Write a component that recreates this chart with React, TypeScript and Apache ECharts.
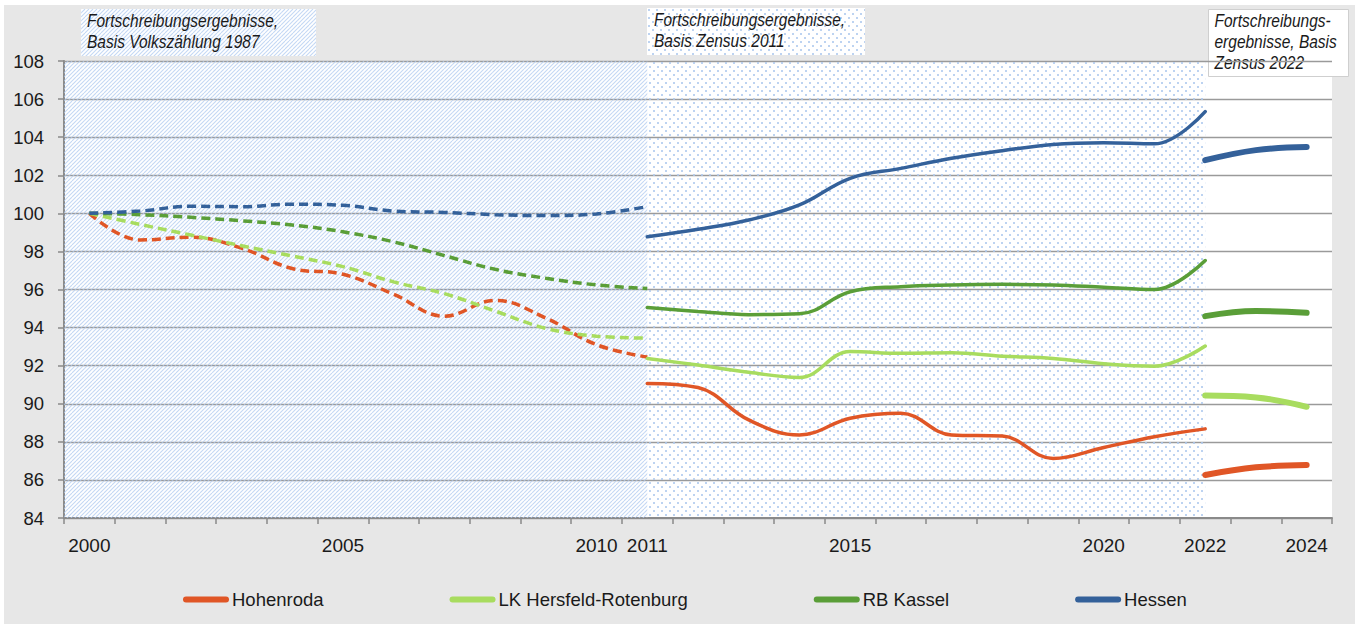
import React, { useEffect, useRef } from "react";
import * as echarts from "echarts";

const YEARS = [
  "2000", "2001", "2002", "2003", "2004", "2005", "2006", "2007", "2008", "2009",
  "2010", "2011", "2012", "2013", "2014", "2015", "2016", "2017", "2018", "2019",
  "2020", "2021", "2022", "2023", "2024",
];
const X_LABELS = ["2000", "2005", "2010", "2011", "2015", "2020", "2022", "2024"];

const NAMES = ["Hohenroda", "LK Hersfeld-Rotenburg", "RB Kassel", "Hessen"];
const COLORS = ["#E05626", "#A8DC5F", "#5A9E38", "#34619A"];

// Basis Volkszählung 1987: 2000–2011
const HOHENRODA_VZ87 = [100, 98.6, 98.75, 98.17, 97.1, 96.8, 95.75, 94.6, 95.43, 94.5, 93.1, 92.45];
const LK_VZ87 = [100, 99.42, 98.86, 98.3, 97.76, 97.2, 96.4, 95.78, 94.87, 93.96, 93.55, 93.45];
const RBK_VZ87 = [100, 99.93, 99.79, 99.61, 99.39, 99.03, 98.5, 97.78, 97.06, 96.59, 96.24, 96.05];
const HESSEN_VZ87 = [100, 100.12, 100.37, 100.35, 100.48, 100.42, 100.12, 100.05, 99.93, 99.88, 99.97, 100.35];

// Basis Zensus 2011: 2011–2022
const HOHENRODA_Z11 = [91.07, 90.85, 89.15, 88.36, 89.24, 89.5, 88.36, 88.3, 87.13, 87.7, 88.27, 88.68];
const LK_Z11 = [92.38, 92.03, 91.65, 91.38, 92.74, 92.65, 92.68, 92.5, 92.38, 92.1, 91.97, 93.03];
const RBK_Z11 = [95.06, 94.85, 94.68, 94.72, 95.88, 96.15, 96.24, 96.27, 96.24, 96.12, 96.0, 97.52];
const HESSEN_Z11 = [98.77, 99.16, 99.65, 100.44, 101.84, 102.36, 102.89, 103.29, 103.62, 103.71, 103.65, 105.34];

// Basis Zensus 2022: 2022–2024
const HOHENRODA_Z22 = [86.26, 86.66, 86.78];
const LK_Z22 = [90.43, 90.33, 89.84];
const RBK_Z22 = [94.6, 94.87, 94.78];
const HESSEN_Z22 = [102.79, 103.32, 103.48];

const START_1987 = 0;
const START_2011 = 11;
const START_2022 = 22;

const SERIES_DATA = [
  [HOHENRODA_VZ87, HOHENRODA_Z11, HOHENRODA_Z22],
  [LK_VZ87, LK_Z11, LK_Z22],
  [RBK_VZ87, RBK_Z11, RBK_Z22],
  [HESSEN_VZ87, HESSEN_Z11, HESSEN_Z22],
];

const Y_MIN = 84;
const Y_MAX = 108;
const Y_STEP = 2;

const FONT = "'Liberation Sans', Arial, sans-serif";

function pad(values: number[], start: number): (number | null)[] {
  const out: (number | null)[] = YEARS.map(() => null);
  values.forEach((v, i) => {
    out[start + i] = v;
  });
  return out;
}

function makeHatch(withWhite: boolean): string {
  const c = document.createElement("canvas");
  c.width = 8;
  c.height = 8;
  const ctx = c.getContext("2d")!;
  if (withWhite) {
    ctx.fillStyle = "#ffffff";
    ctx.fillRect(0, 0, 8, 8);
  }
  ctx.strokeStyle = "rgba(176,203,240,0.75)";
  ctx.lineWidth = 1.1;
  for (let k = -8; k <= 16; k += 4) {
    ctx.beginPath();
    ctx.moveTo(k, 8);
    ctx.lineTo(k + 8, 0);
    ctx.stroke();
  }
  return c.toDataURL();
}

function makeDots(withWhite: boolean): string {
  const c = document.createElement("canvas");
  c.width = 8;
  c.height = 8;
  const ctx = c.getContext("2d")!;
  if (withWhite) {
    ctx.fillStyle = "#ffffff";
    ctx.fillRect(0, 0, 8, 8);
  }
  ctx.fillStyle = "rgba(172,200,238,0.8)";
  ctx.fillRect(1, 1, 2, 2);
  ctx.fillRect(5, 5, 2, 2);
  return c.toDataURL();
}

export default function App() {
  const ref = useRef<HTMLDivElement>(null);

  useEffect(() => {
    if (!ref.current) return;
    const chart = echarts.init(ref.current, undefined, { renderer: "svg" });

    const hatch = { image: makeHatch(false), repeat: "repeat", imageWidth: 8, imageHeight: 8 };
    const dots = { image: makeDots(false), repeat: "repeat", imageWidth: 8, imageHeight: 8 };
    const hatchW = { image: makeHatch(true), repeat: "repeat", imageWidth: 8, imageHeight: 8 };
    const dotsW = { image: makeDots(true), repeat: "repeat", imageWidth: 8, imageHeight: 8 };

    const series: any[] = [];
    const starts = [START_1987, START_2011, START_2022];
    SERIES_DATA.forEach((parts, r) => {
      parts.forEach((vals, p) => {
        series.push({
          name: NAMES[r],
          type: "line",
          xAxisIndex: 0,
          yAxisIndex: 0,
          data: pad(vals, starts[p]),
          smooth: 0.4,
          symbol: "none",
          showSymbol: false,
          silent: true,
          z: 3,
          color: COLORS[r],
          lineStyle: {
            color: COLORS[r],
            width: p === 2 ? 6 : 3.5,
            type: p === 0 ? [9, 5] : "solid",
            cap: p === 0 ? "butt" : "round",
          },
        });
      });
    });

    series.push({
      name: "__bg",
      type: "line",
      xAxisIndex: 1,
      yAxisIndex: 0,
      data: [],
      silent: true,
      markArea: {
        silent: true,
        data: [
          [{ xAxis: -0.5, itemStyle: { color: hatch } }, { xAxis: START_2011 }],
          [{ xAxis: START_2011, itemStyle: { color: dots } }, { xAxis: START_2022 }],
        ],
      },
    });

    const textStyleBox = {
      fill: "#1a1a1a",
      fontStyle: "italic",
      fontSize: 15.5,
      fontFamily: FONT,
      lineHeight: 17.5,
      verticalAlign: "top",
    };

    chart.setOption({
      animation: false,
      backgroundColor: "#E7E7E7",
      grid: {
        left: 60,
        top: 56,
        width: 1268,
        height: 457,
        show: true,
        backgroundColor: "#ffffff",
        borderWidth: 0,
        containLabel: false,
      },
      legend: {
        data: NAMES.map((n, i) => ({
          name: n,
          icon: "path://M3,0L43,0A3,3,0,0,1,43,6L3,6A3,3,0,0,1,3,0Z",
          itemStyle: { color: COLORS[i] },
        })),
        left: 174,
        top: 580,
        itemWidth: 46,
        itemHeight: 6,
        itemGap: 126,
        textStyle: { color: "#1a1a1a", fontSize: 18.5, fontFamily: FONT, padding: [0, 0, 0, -2] },
        selectedMode: false,
      },
      xAxis: [
        {
          type: "category",
          data: YEARS,
          boundaryGap: true,
          axisLine: { show: true, onZero: false, lineStyle: { color: "#8a8a8a", width: 2 } },
          axisTick: { show: true, interval: 0, length: 6, lineStyle: { color: "#8a8a8a", width: 1.5 } },
          axisLabel: {
            interval: 0,
            margin: 18,
            color: "#1a1a1a",
            fontSize: 19,
            fontFamily: FONT,
            formatter: (v: string) => (X_LABELS.includes(v) ? v : ""),
          },
          splitLine: { show: false },
        },
        {
          type: "value",
          min: -0.5,
          max: YEARS.length - 0.5,
          show: false,
          position: "bottom",
          axisLine: { onZero: false },
        },
      ],
      yAxis: {
        type: "value",
        min: Y_MIN,
        max: Y_MAX,
        interval: Y_STEP,
        axisLine: { show: true, onZero: false, lineStyle: { color: "#8a8a8a", width: 2 } },
        axisTick: { show: true, length: 6, lineStyle: { color: "#8a8a8a", width: 1.5 } },
        axisLabel: { margin: 20, color: "#1a1a1a", fontSize: 18.5, fontFamily: FONT },
        splitLine: { show: true, lineStyle: { color: "#9a9a9a", width: 1.3 } },
      },
      graphic: [
        {
          type: "group",
          left: 77,
          top: 4,
          children: [
            { type: "rect", shape: { x: 0, y: 0, width: 235, height: 47 }, style: { fill: hatchW } },
            {
              type: "text",
              x: 6,
              y: 2,
              scaleY: 1.2,
              style: { ...textStyleBox, text: "Fortschreibungsergebnisse,\nBasis Volkszählung 1987" },
            },
          ],
        },
        {
          type: "group",
          left: 643,
          top: 3,
          children: [
            { type: "rect", shape: { x: 0, y: 0, width: 218, height: 47 }, style: { fill: dotsW } },
            {
              type: "text",
              x: 7,
              y: 2,
              scaleY: 1.2,
              style: { ...textStyleBox, text: "Fortschreibungsergebnisse,\nBasis Zensus 2011" },
            },
          ],
        },
        {
          type: "group",
          left: 1204,
          top: 4,
          children: [
            {
              type: "rect",
              shape: { x: 0, y: 0, width: 140, height: 67 },
              style: { fill: "#ffffff", stroke: "#cfcfcf", lineWidth: 1 },
            },
            {
              type: "text",
              x: 6,
              y: 1,
              scaleY: 1.2,
              style: { ...textStyleBox, text: "Fortschreibungs-\nergebnisse, Basis\nZensus 2022" },
            },
          ],
        },
      ],
      series,
    });

    return () => chart.dispose();
  }, []);

  return (
    <div style={{ position: "absolute", left: 0, top: 0, width: 1355, height: 624, background: "#ffffff" }}>
      <div ref={ref} style={{ position: "absolute", left: 4, top: 5, width: 1351, height: 619 }} />
    </div>
  );
}
